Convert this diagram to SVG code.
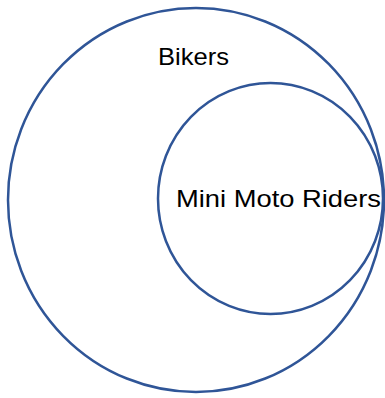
<svg xmlns="http://www.w3.org/2000/svg" width="385" height="398" viewBox="0 0 385 398">
<style>
.c{fill:none;stroke:#2F5597;stroke-width:2.5}
.t{font-family:"Liberation Sans",Arial,sans-serif;font-size:24px;fill:#000}
</style>
<rect width="385" height="398" fill="#fff"/>
<g id="bikers">
<ellipse class="c" cx="196" cy="200" rx="188" ry="192"/>
<text class="t" x="158" y="65" textLength="71" lengthAdjust="spacingAndGlyphs">Bikers</text>
</g>
<g id="mini-moto-riders">
<ellipse class="c" cx="270.5" cy="198.5" rx="112.5" ry="115.5"/>
<text class="t" x="176" y="207" textLength="205" lengthAdjust="spacingAndGlyphs">Mini Moto Riders</text>
</g>
<g id="connectors"/>
</svg>
